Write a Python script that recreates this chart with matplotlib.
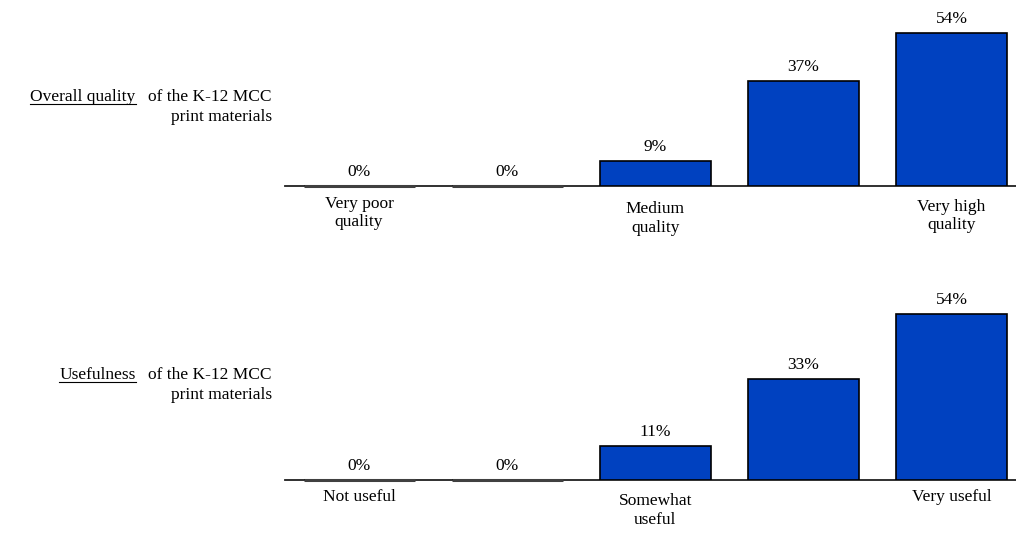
import matplotlib.pyplot as plt
from matplotlib.lines import Line2D

plt.rcParams["font.family"] = ["Liberation Serif", "DejaVu Serif"]

# survey results, five-point scale
quality_pct = [0, 0, 9, 37, 54]
useful_pct = [0, 0, 11, 33, 54]
quality_ticks = ["Very poor\nquality", "", "Medium\nquality", "", "Very high\nquality"]
useful_ticks = ["Not useful", "", "Somewhat\nuseful", "", "Very useful"]
quality_title = ("Overall quality", "of the K-12 MCC", "print materials")
useful_title = ("Usefulness", "of the K-12 MCC", "print materials")

BLUE = "#0041C0"
W, H = 1016, 533
FS = 12.5

fig = plt.figure(figsize=(W / 100, H / 100), dpi=100)


def px_axes(x0, y_top, x1, y_base):
    return fig.add_axes([x0 / W, 1 - y_base / H, (x1 - x0) / W, (y_base - y_top) / H])


def panel(ax, values, ticks, ymax, tick_y):
    xs = range(len(values))
    ax.bar(xs, values, width=0.75, color=BLUE, edgecolor="black", linewidth=1.2, zorder=3)
    for x, v in zip(xs, values):
        if v == 0:
            ax.plot([x - 0.375, x + 0.375], [0, 0], color="#404040", linewidth=2.2,
                    solid_capstyle="butt", zorder=4, clip_on=False)
        ax.annotate(f"{v}%", (x, v), xytext=(0, 10), textcoords="offset points",
                    ha="center", va="center", fontsize=FS)
    ax.set_xlim(-0.5, 4.435)
    ax.set_ylim(0, ymax)
    for s in ("top", "left", "right"):
        ax.spines[s].set_visible(False)
    ax.spines["bottom"].set_linewidth(1.3)
    ax.spines["bottom"].set_color("#202020")
    ax.set_yticks([])
    ax.set_xticks([])
    for x, lab, dy in zip(xs, ticks, tick_y):
        if lab:
            ax.annotate(lab, (x, 0), xytext=(0, -dy), textcoords="offset points",
                        ha="center", va="center", fontsize=FS, linespacing=1.2)


ax1 = px_axes(285, 0, 1016, 186)
panel(ax1, quality_pct, quality_ticks, 54 * 186 / 153, [19.5, 0, 23.5, 0, 21.5])

ax2 = px_axes(285, 290, 1016, 480)
panel(ax2, useful_pct, useful_ticks, 190 / 3.07, [12.5, 0, 22, 0, 12.5])


def side_title(parts, y1, y2):
    head, rest, line2 = parts
    r_txt = fig.text(272 / W, 1 - y1 / H, rest, ha="right", va="center", fontsize=FS)
    fig.text(272 / W, 1 - y2 / H, line2, ha="right", va="center", fontsize=FS)
    # underlined lead-in, placed left of the rest of the line
    fig.canvas.draw()
    r = fig.canvas.get_renderer()
    rest_bb = r_txt.get_window_extent(r)
    h = fig.text((rest_bb.x0 - 13) / W, 1 - y1 / H, head, ha="right", va="center", fontsize=FS)
    fig.canvas.draw()
    bb = h.get_window_extent(r)
    yl = (bb.y0 + 1) / H
    fig.add_artist(Line2D([bb.x0 / W, bb.x1 / W], [yl, yl], color="black", linewidth=0.8))


side_title(quality_title, 97, 117)
side_title(useful_title, 375, 395)

fig.savefig("out.png", dpi=100)
